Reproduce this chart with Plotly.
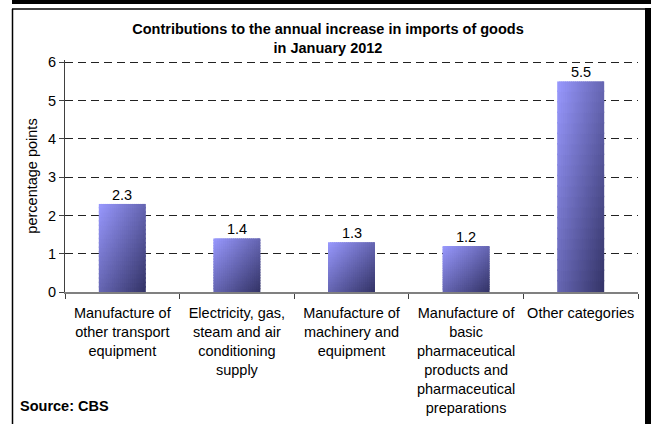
import plotly.graph_objects as go

# Data
categories = [
    "Manufacture of<br>other transport<br>equipment",
    "Electricity, gas,<br>steam and air<br>conditioning<br>supply",
    "Manufacture of<br>machinery and<br>equipment",
    "Manufacture of<br>basic<br>pharmaceutical<br>products and<br>pharmaceutical<br>preparations",
    "Other categories",
]
values = [2.3, 1.4, 1.3, 1.2, 5.5]
value_labels = ["2.3", "1.4", "1.3", "1.2", "5.5"]
y_ticks = [0, 1, 2, 3, 4, 5, 6]

FONT = "Liberation Sans, Arial, sans-serif"
W, H = 651, 424
ML, MR, MT, MB = 65, 13, 60, 132
PW, PH = W - ML - MR, H - MT - MB


def xp(px):
    """Pixel column -> paper x."""
    return (px - ML) / PW


def yp(py):
    """Pixel row -> paper y."""
    return (H - MB - py) / PH


LIGHT = (153, 153, 255)
DARK = (51, 51, 102)


def shade(s):
    c = [round(a + (b - a) * s) for a, b in zip(LIGHT, DARK)]
    return f"rgb({c[0]},{c[1]},{c[2]})"


fig = go.Figure()

# Diagonal gradient fill (light top-left -> dark bottom-right), built from
# small tiles.  Each tile overlaps the next column / row slightly; those are
# drawn later and cover the overlap, so anti-aliased edges never show white.
BAR_W = 0.41
NC, NR = 24, 20
cw = BAR_W / NC
OX, OY = 0.012, 0.04
for i in range(NC):
    u = (i + 0.5) / NC
    ext_x = 0.0 if i == NC - 1 else OX
    for j in range(NR):
        t = 1 - (j + 0.5) / NR
        top_row = j == NR - 1
        fig.add_bar(
            x=categories,
            y=[v / NR + (0.0 if top_row else OY) for v in values],
            base=[v * j / NR for v in values],
            width=cw + ext_x,
            offset=-BAR_W / 2 + i * cw,
            marker=dict(color=shade((u + t) / 2), line=dict(width=0)),
            hoverinfo="skip",
            showlegend=False,
        )

shapes = [
    # thick black band along the top
    dict(type="rect", xref="paper", yref="paper", x0=xp(12), x1=xp(651), y0=yp(0), y1=yp(4),
         fillcolor="#000000", line=dict(width=0), layer="above"),
    # chart frame
    dict(type="line", xref="paper", yref="paper", x0=xp(12.5), x1=xp(12.5), y0=yp(9), y1=yp(430),
         line=dict(color="#000000", width=1.5), layer="above"),
    dict(type="line", xref="paper", yref="paper", x0=xp(12), x1=xp(646), y0=yp(9), y1=yp(9),
         line=dict(color="#000000", width=1.5), layer="above"),
    dict(type="rect", xref="paper", yref="paper", x0=xp(645), x1=xp(651), y0=yp(8), y1=yp(430),
         fillcolor="#000000", line=dict(width=0), layer="above"),
]

# Value labels just above each bar
annotations = [
    dict(text=lab, x=cat, y=v, xref="x", yref="y", xanchor="center", yanchor="bottom",
         yshift=-1, showarrow=False, font=dict(family=FONT, size=14.5, color="#000000"))
    for cat, v, lab in zip(categories, values, value_labels)
]
annotations.append(
    dict(text="<b>Source: CBS</b>", xref="paper", yref="paper", x=xp(18), y=yp(406),
         xanchor="left", yanchor="middle", showarrow=False,
         font=dict(family=FONT, size=14.5, color="#000000"))
)

fig.update_layout(
    width=W,
    height=H,
    margin=dict(l=ML, r=MR, t=MT, b=MB, pad=0, autoexpand=False),
    paper_bgcolor="#ffffff",
    plot_bgcolor="#ffffff",
    barmode="overlay",
    font=dict(family=FONT, size=14.5, color="#000000"),
    title=dict(
        text="<b>Contributions to the annual increase in imports of goods<br>in January 2012</b>",
        x=328 / W,
        xanchor="center",
        y=1 - 34 / H,
        yanchor="top",
        font=dict(family=FONT, size=14.5, color="#000000"),
        automargin=False,
    ),
    xaxis=dict(
        type="category",
        showline=True,
        linecolor="#808080",
        linewidth=2,
        ticks="outside",
        tickson="boundaries",
        ticklen=5,
        tickcolor="#404040",
        tickwidth=1,
        tickangle=0,
        ticklabelstandoff=7,
        showgrid=False,
        automargin=False,
        tickfont=dict(family=FONT, size=14.5, color="#000000"),
        fixedrange=True,
    ),
    yaxis=dict(
        range=[0, 6.06],
        tickvals=y_ticks,
        ticks="outside",
        ticklen=5,
        tickcolor="#404040",
        showline=True,
        linecolor="#404040",
        linewidth=1,
        showgrid=True,
        gridcolor="#222222",
        gridwidth=1,
        griddash="8px,5px",
        zeroline=False,
        automargin=False,
        tickfont=dict(family=FONT, size=14.5, color="#000000"),
        title=dict(text="percentage points", font=dict(family=FONT, size=14.5), standoff=6),
        fixedrange=True,
    ),
    shapes=shapes,
    annotations=annotations,
)

fig.write_html("out.html")
